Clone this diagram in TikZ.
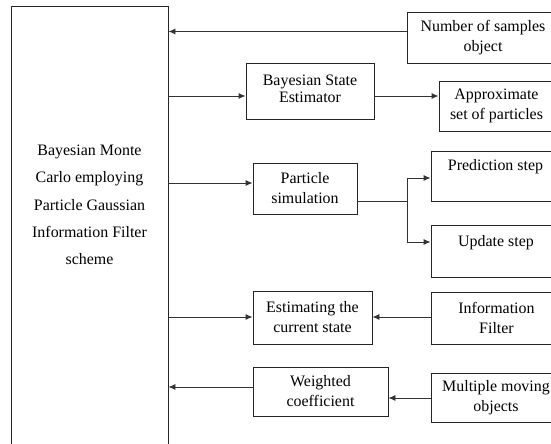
\documentclass[tikz,border=0pt]{standalone}
\usepackage{fontspec}
\setmainfont{Liberation Serif}
\usetikzlibrary{arrows.meta}
\begin{document}
\begin{tikzpicture}[x=1bp,y=-1bp,
  box/.style={draw=black!85,line width=0.9bp,inner sep=0pt,align=center,font=\fontsize{16}{20}\selectfont},
  arr/.style={draw=black!80,line width=0.9bp,-{Latex[length=7bp,width=6bp]}},
  ln/.style={draw=black!80,line width=0.9bp}]
\useasboundingbox (0,0) rectangle (551,444);
% big box
\node[box,minimum width=157bp,minimum height=440bp] (big) at (89.5,226) {};
\node[align=center,font=\fontsize{16}{27.5}\selectfont,inner sep=0pt] (bigtext) at (89.5,205)
  {Bayesian Monte\\Carlo employing\\Particle Gaussian\\Information Filter\\scheme};
% right column boxes
\node[box,minimum width=152bp,minimum height=51bp] (num) at (483,37.5) {Number of samples\\object};
\node[box,minimum width=115bp,minimum height=50bp] (apx) at (496.5,106) {Approximate\\set of particles};
\node[box,minimum width=129bp,minimum height=50bp,text height=20bp,text depth=30bp] (pred) at (495.5,176) {Prediction step};
\node[box,minimum width=130bp,minimum height=52bp,text height=22bp,text depth=30bp] (upd) at (496,251) {Update step};
\node[box,minimum width=131bp,minimum height=52bp] (info) at (496.5,318) {Information\\Filter};
\node[box,minimum width=130bp,minimum height=49bp] (mmo) at (496,397.5) {Multiple moving\\objects};
% middle column boxes
\node[box,minimum width=128bp,minimum height=56bp] (bse) at (310,91) {\raisebox{5bp}{\shortstack{Bayesian State\\Estimator}}};
\node[box,minimum width=104bp,minimum height=51bp] (ps) at (305,188.5) {Particle\\simulation};
\node[box,minimum width=119bp,minimum height=53bp] (est) at (312.5,317.5) {Estimating the\\current state};
\node[box,minimum width=135bp,minimum height=49bp] (wc) at (320.5,391.5) {Weighted\\coefficient};
% helper coordinates
\coordinate (y31) at (0,31.5);
\coordinate (y96) at (0,96);
\coordinate (y183) at (0,183);
\coordinate (y201) at (0,201);
\coordinate (y178) at (0,178);
\coordinate (y242) at (0,242);
\coordinate (y317) at (0,317);
\coordinate (y387) at (0,387);
\coordinate (y398) at (0,398);
\coordinate (J) at (407,201);
\coordinate (Jt) at (407,178);
\coordinate (Jb) at (407,242);
% connectors
\draw[arr] (num.west |- y31) -- (big.east |- y31);
\draw[arr] (big.east |- y96) -- (bse.west |- y96);
\draw[arr] (bse.east |- y96) -- (apx.west |- y96);
\draw[arr] (big.east |- y183) -- (ps.west |- y183);
\draw[ln] (ps.east |- y201) -- (J);
\draw[ln] (Jt) -- (Jb);
\draw[arr] (Jt) -- (pred.west |- y178);
\draw[arr] (Jb) -- (upd.west |- y242);
\draw[arr] (big.east |- y317) -- (est.west |- y317);
\draw[arr] (info.west |- y317) -- (est.east |- y317);
\draw[arr] (wc.west |- y387) -- (big.east |- y387);
\draw[arr] (mmo.west |- y398) -- (wc.east |- y398);
\end{tikzpicture}
\end{document}
